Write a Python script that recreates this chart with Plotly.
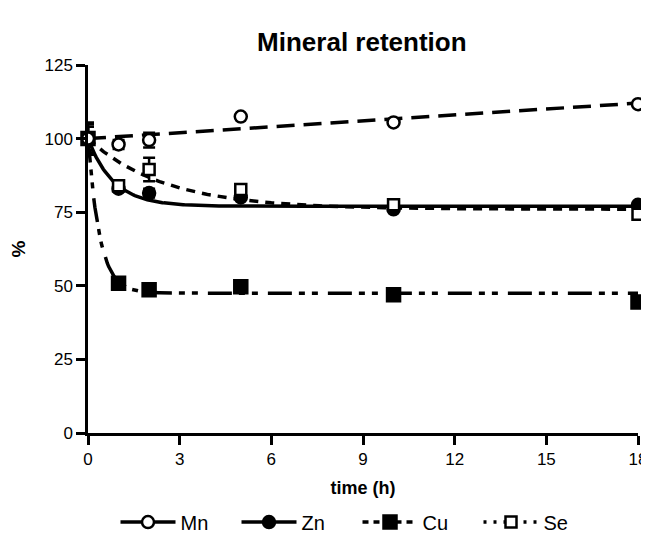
import numpy as np
import plotly.graph_objects as go

# ---- data ----
time_h = [0, 1, 2, 5, 10, 18]
mn = [100, 98, 99.5, 107.5, 105.5, 111.7]
zn = [100, 83, 81.5, 80, 76, 77.5]
cu = [100, 50.9, 48.7, 49.7, 47, 44.5]
se = [100, 84, 89.5, 82.7, 77.5, 74.3]

mn_err = [5, 1.5, 2.5, 0, 0, 0]
zn_err = [4, 0, 1.5, 0, 0, 0]
cu_err = [5.5, 0, 0, 0, 0, 0]
se_err = [4, 0, 4, 0, 0, 0]

x_ticks = [0, 3, 6, 9, 12, 15, 18]
y_ticks = [0, 25, 50, 75, 100, 125]

# fitted-curve parameters (linear for Mn, one-phase decay for the others)
mn_fit_intercept, mn_fit_slope = 100.0, 0.67
zn_plateau, zn_span, zn_rate = 77.0, 23.0, 1.2
cu_plateau, cu_span, cu_rate = 47.5, 52.5, 2.6
se_plateau, se_span, se_rate = 76.0, 24.0, 0.4

t_fit = np.linspace(0, 18, 400)
mn_fit = mn_fit_intercept + mn_fit_slope * t_fit
zn_fit = zn_plateau + zn_span * np.exp(-zn_rate * t_fit)
cu_fit = cu_plateau + cu_span * np.exp(-cu_rate * t_fit)
se_fit = se_plateau + se_span * np.exp(-se_rate * t_fit)

fig = go.Figure()

LW = 3.5
fits = [
    (mn_fit, "18px,9px"),
    (zn_fit, "solid"),
    (cu_fit, "24px,7px,6px,7px,6px,10px"),
    (se_fit, "9px,7px"),
]
for yv, dash in fits:
    fig.add_trace(go.Scatter(x=t_fit, y=yv, mode="lines", showlegend=False,
                             line=dict(color="black", width=LW, dash=dash),
                             cliponaxis=False, hoverinfo="skip"))

series = [
    ("Cu", cu, cu_err, "square", "black", 13),
    ("Zn", zn, zn_err, "circle", "black", 12),
    ("Se", se, se_err, "square", "white", 11),
    ("Mn", mn, mn_err, "circle", "white", 12),
]
for name, yv, err, sym, fill, size in series:
    fig.add_trace(go.Scatter(
        x=time_h, y=yv, mode="markers", showlegend=False, cliponaxis=False,
        marker=dict(symbol=sym, size=size, color=fill,
                    line=dict(color="black", width=2.5)),
        error_y=dict(type="data", array=err, visible=True, color="black",
                     thickness=2.5, width=6)))

legend_items = [
    ("Mn", "circle", "white", 12, "solid"),
    ("Zn", "circle", "black", 12, "solid"),
    ("Cu", "square", "black", 13, "6px,5px"),
    ("Se", "square", "white", 11, "3px,7px"),
]
for name, sym, fill, size, dash in legend_items:
    fig.add_trace(go.Scatter(
        x=[None], y=[None], mode="lines+markers", name=name,
        line=dict(color="black", width=LW, dash=dash),
        marker=dict(symbol=sym, size=size, color=fill,
                    line=dict(color="black", width=2.5))))

axis_common = dict(showline=True, linecolor="black", linewidth=2.5,
                   ticks="outside", ticklen=9, tickwidth=2.5, tickcolor="black",
                   showgrid=False, zeroline=False,
                   tickfont=dict(size=17, color="black"))

fig.update_layout(
    width=641, height=530,
    margin=dict(l=79.5, r=11.3, t=57, b=105, autoexpand=False),
    paper_bgcolor="white", plot_bgcolor="white",
    font=dict(family="Liberation Sans, Arial, sans-serif", color="black"),
    title=dict(text="<b>Mineral retention</b>", x=0.552, xanchor="center",
               y=0.936, yanchor="middle", font=dict(size=26)),
    xaxis=dict(range=[0, 18], tickvals=x_ticks,
               title=dict(text="<b>time (h)</b>", font=dict(size=18), standoff=14),
               **axis_common),
    yaxis=dict(range=[0, 125], tickvals=y_ticks,
               title=dict(text="<b>%</b>", font=dict(size=19), standoff=24),
               **axis_common),
    legend=dict(orientation="h", x=0.05, xanchor="left", y=-0.242, yanchor="middle",
                font=dict(size=20), itemwidth=55, entrywidth=51,
                bgcolor="rgba(0,0,0,0)"),
    showlegend=True,
)

fig.write_html("out.html")
